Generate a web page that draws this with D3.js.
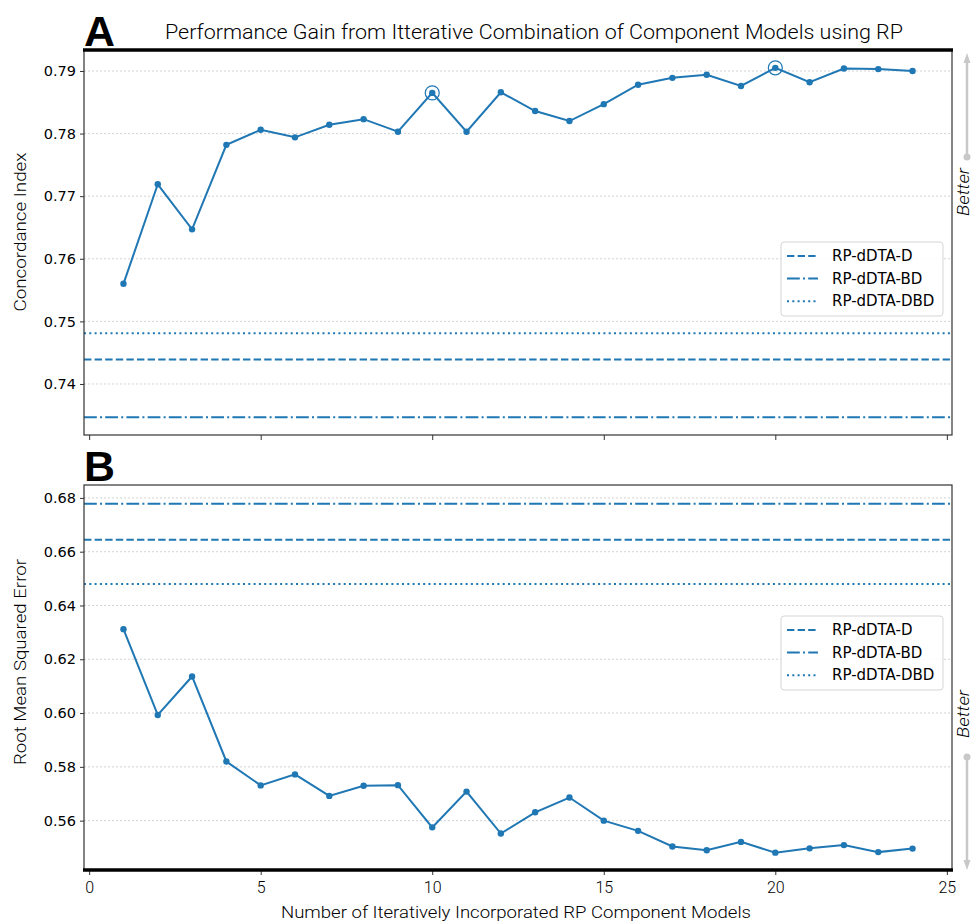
<!DOCTYPE html>
<html>
<head>
<meta charset="utf-8">
<script src="https://cdn.jsdelivr.net/npm/d3@7"></script>
<style>
	body { margin: 0; background: #fff; }
	svg text { fill: #000; }
</style>
</head>
<body>
<svg id="chart" width="974" height="922"></svg>
<script>
var iterations = [1,2,3,4,5,6,7,8,9,10,11,12,13,14,15,16,17,18,19,20,21,22,23,24];
var ciValues = [0.7560, 0.7719, 0.7647, 0.7782, 0.7806, 0.7794, 0.7814, 0.7823, 0.7803, 0.7865, 0.7803, 0.7866,
	0.7836, 0.7820, 0.7847, 0.7878, 0.7889, 0.7894, 0.7876, 0.7905, 0.7882, 0.7904, 0.7903, 0.7900];
var rmseValues = [0.6312, 0.5993, 0.6136, 0.5820, 0.5731, 0.5772, 0.5692, 0.5730, 0.5732, 0.5575, 0.5708, 0.5552,
	0.5631, 0.5686, 0.5600, 0.5562, 0.5504, 0.5490, 0.5521, 0.5481, 0.5497, 0.5509, 0.5483, 0.5496];
var baselineNames = ['RP-dDTA-D', 'RP-dDTA-BD', 'RP-dDTA-DBD'];
var ciBaselines = [0.7439, 0.7347, 0.7481];
var rmseBaselines = [0.6644, 0.6778, 0.6480];
var ciHighlighted = [10, 20];
var xTicks = [0, 5, 10, 15, 20, 25];
var ciTicks = [0.74, 0.75, 0.76, 0.77, 0.78, 0.79];
var rmseTicks = [0.56, 0.58, 0.60, 0.62, 0.64, 0.66, 0.68];

var blue = '#1f77b4';
var dashes = ['7.4,3.2', '12.8,3.2,2,3.2', '2,3.3'];
var narrowFont = 'Roboto, "Liberation Sans", sans-serif';
var tickFont = '"DejaVu Sans", sans-serif';

var svg = d3.select('#chart');
var left = 84, right = 952;

var x = d3.scaleLinear().domain([-0.15, 25.15]).range([left, right]);

function drawPanel(cfg) {
	var y = d3.scaleLinear().domain(cfg.domain).range([cfg.bottom, cfg.top]);
	var g = svg.append('g');

	// grid
	g.selectAll('line.grid').data(cfg.ticks).enter().append('line')
		.attr('x1', left).attr('x2', right)
		.attr('y1', function(d) { return y(d); }).attr('y2', function(d) { return y(d); })
		.attr('stroke', '#c8c8c8').attr('stroke-width', 0.8).attr('stroke-dasharray', '2,2');

	// y axis
	var yAxis = g.append('g').attr('transform', 'translate(' + left + ',0)')
		.call(d3.axisLeft(y).tickValues(cfg.ticks).tickFormat(d3.format('.2f')).tickSize(4).tickPadding(4));
	yAxis.select('.domain').remove();
	yAxis.selectAll('line').attr('stroke', '#333');
	yAxis.selectAll('text').attr('font-family', tickFont).attr('font-size', 14.5).attr('fill', '#000');

	// x ticks
	var xAxis = g.append('g').attr('transform', 'translate(0,' + cfg.bottom + ')')
		.call(d3.axisBottom(x).tickValues(xTicks).tickSize(5).tickPadding(7));
	xAxis.select('.domain').remove();
	xAxis.selectAll('line').attr('stroke', '#333');
	if (cfg.showXLabels) {
		xAxis.selectAll('text').attr('font-family', narrowFont).attr('font-weight', 300)
			.attr('font-size', 16).attr('fill', '#000');
	} else {
		xAxis.selectAll('text').remove();
	}

	// baselines
	g.selectAll('line.base').data(cfg.baselines).enter().append('line')
		.attr('x1', left).attr('x2', right)
		.attr('y1', function(d) { return y(d); }).attr('y2', function(d) { return y(d); })
		.attr('stroke', blue).attr('stroke-width', 2)
		.attr('stroke-dasharray', function(d, i) { return dashes[i]; });

	// series
	var line = d3.line()
		.x(function(d, i) { return x(iterations[i]); })
		.y(function(d) { return y(d); });
	g.append('path').datum(cfg.values)
		.attr('d', line).attr('fill', 'none').attr('stroke', blue).attr('stroke-width', 2);
	g.selectAll('circle.pt').data(cfg.values).enter().append('circle')
		.attr('cx', function(d, i) { return x(iterations[i]); })
		.attr('cy', function(d) { return y(d); })
		.attr('r', 3.2).attr('fill', blue);

	if (cfg.highlighted) {
		g.selectAll('circle.hl').data(cfg.highlighted).enter().append('circle')
			.attr('cx', function(d) { return x(d); })
			.attr('cy', function(d) { return y(cfg.values[iterations.indexOf(d)]); })
			.attr('r', 7).attr('fill', 'none').attr('stroke', blue).attr('stroke-width', 1.2);
	}

	// frame
	g.append('rect').attr('x', left).attr('y', cfg.top)
		.attr('width', right - left).attr('height', cfg.bottom - cfg.top)
		.attr('fill', 'none').attr('stroke', '#333').attr('stroke-width', 1.2);
	var thickY = cfg.thickTop ? cfg.top : cfg.bottom;
	g.append('line').attr('x1', left - 1).attr('x2', right + 1)
		.attr('y1', thickY).attr('y2', thickY)
		.attr('stroke', '#000').attr('stroke-width', 3.5);

	// legend
	var lg = g.append('g').attr('transform', 'translate(781,' + cfg.legendTop + ')');
	lg.append('rect').attr('width', 162).attr('height', 74).attr('rx', 3)
		.attr('fill', '#fff').attr('fill-opacity', 0.85).attr('stroke', '#d5d5d5');
	var rows = lg.selectAll('g.row').data(baselineNames).enter().append('g')
		.attr('transform', function(d, i) { return 'translate(0,' + (14 + i * 22.6) + ')'; });
	rows.append('line').attr('x1', 6).attr('x2', 37)
		.attr('stroke', blue).attr('stroke-width', 2)
		.attr('stroke-dasharray', function(d, i) { return dashes[i]; });
	rows.append('text').attr('x', 51).attr('dy', '0.35em')
		.attr('font-family', tickFont).attr('font-size', 15).text(function(d) { return d; });

	// y label
	svg.append('text')
		.attr('transform', 'translate(26,' + cfg.yLabelY + ') rotate(-90)')
		.attr('text-anchor', 'middle').attr('font-family', narrowFont).attr('font-weight', 300)
		.attr('font-size', 17).attr('textLength', cfg.yLabelLen).attr('lengthAdjust', 'spacingAndGlyphs')
		.text(cfg.yLabel);

	// panel letter
	svg.append('text').attr('x', 84).attr('y', cfg.top - 4)
		.attr('font-family', '"Liberation Sans", Arial, sans-serif').attr('font-weight', 'bold')
		.attr('font-size', 42).attr('textLength', 31).attr('lengthAdjust', 'spacingAndGlyphs')
		.text(cfg.letter);
}

function drawBetter(textY, dotY, tipY, up) {
	var g = svg.append('g').attr('fill', '#c8c8c8');
	g.append('line').attr('x1', 967).attr('x2', 967)
		.attr('y1', dotY).attr('y2', up ? tipY + 8 : tipY - 8)
		.attr('stroke', '#c8c8c8').attr('stroke-width', 2.5);
	g.append('circle').attr('cx', 967).attr('cy', dotY).attr('r', 3.5);
	var s = up ? -1 : 1;
	g.append('path')
		.attr('d', 'M' + 963.5 + ',' + (tipY - s * 10) + ' L967,' + tipY + ' L' + 970.5 + ',' + (tipY - s * 10) + ' Z');
	svg.append('text')
		.attr('transform', 'translate(969,' + textY + ') rotate(-90)')
		.attr('text-anchor', 'middle').attr('font-family', narrowFont).attr('font-weight', 300)
		.attr('font-style', 'italic').attr('font-size', 16).attr('fill', '#b0b0b0')
		.attr('textLength', 48).attr('lengthAdjust', 'spacingAndGlyphs')
		.text('Better');
}

drawPanel({
	top: 50, bottom: 435, domain: [0.73185, 0.79335], ticks: ciTicks,
	values: ciValues, baselines: ciBaselines, highlighted: ciHighlighted,
	thickTop: true, showXLabels: false, legendTop: 242,
	yLabel: 'Concordance Index', yLabelY: 232, yLabelLen: 159, letter: 'A'
});
drawPanel({
	top: 485, bottom: 870, domain: [0.54165, 0.6848], ticks: rmseTicks,
	values: rmseValues, baselines: rmseBaselines, highlighted: null,
	thickTop: false, showXLabels: true, legendTop: 616,
	yLabel: 'Root Mean Squared Error', yLabelY: 662, yLabelLen: 206, letter: 'B'
});

drawBetter(192, 157, 53, true);
drawBetter(714, 757, 870, false);

svg.append('text').attr('x', 534).attr('y', 39).attr('text-anchor', 'middle')
	.attr('font-family', narrowFont).attr('font-weight', 300).attr('font-size', 20)
	.attr('textLength', 738).attr('lengthAdjust', 'spacingAndGlyphs')
	.text('Performance Gain from Itterative Combination of Component Models using RP');

svg.append('text').attr('x', 516).attr('y', 918).attr('text-anchor', 'middle')
	.attr('font-family', narrowFont).attr('font-weight', 300).attr('font-size', 17)
	.attr('textLength', 470).attr('lengthAdjust', 'spacingAndGlyphs')
	.text('Number of Iteratively Incorporated RP Component Models');
</script>
</body>
</html>
